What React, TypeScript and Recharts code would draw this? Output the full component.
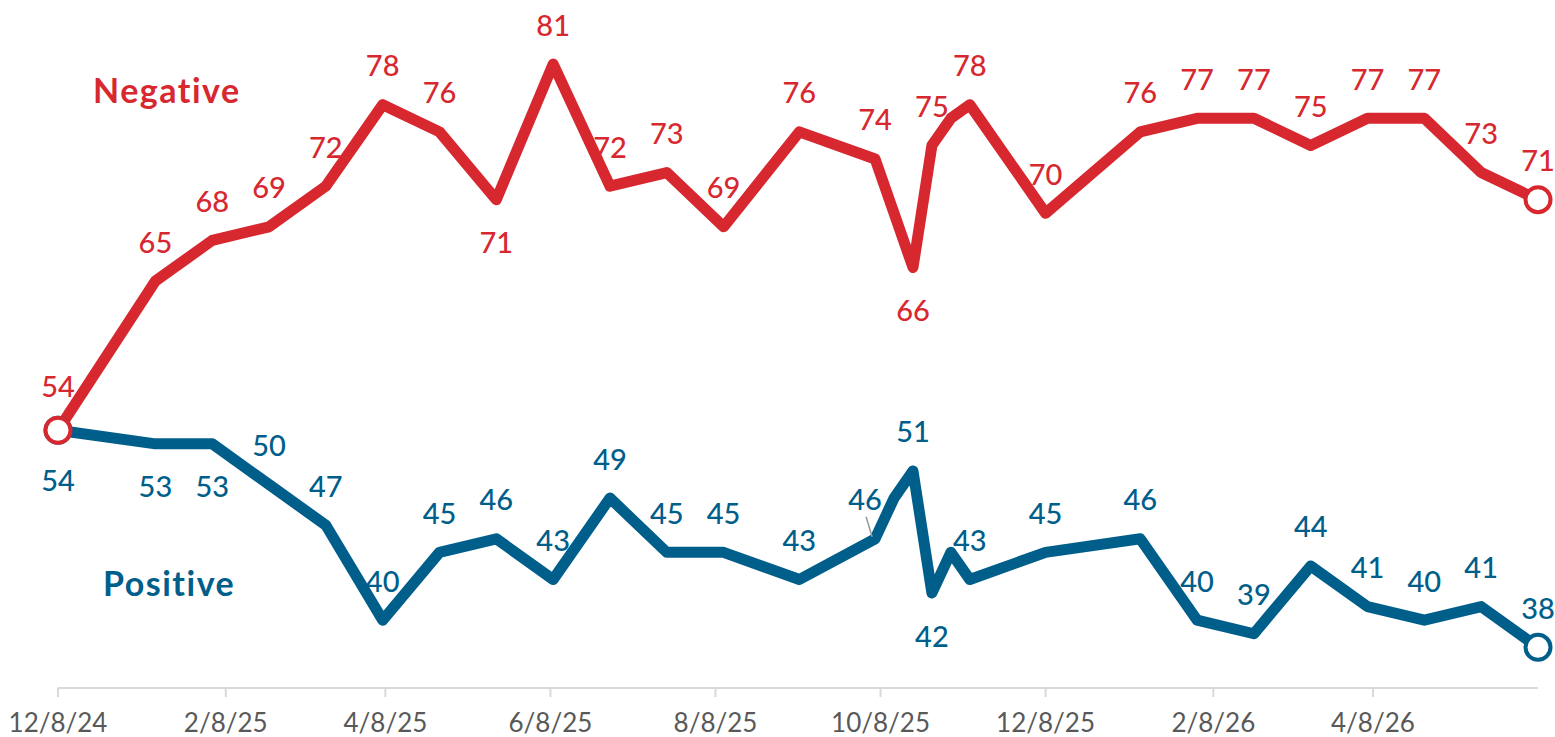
/** Weekly negative vs positive sentiment, Dec 2024 – Jun 2026 */

import { Line, LineChart, XAxis, YAxis } from "recharts";

const dates = [
	"2024-12-08", "2025-01-13", "2025-02-03", "2025-02-24", "2025-03-17",
	"2025-04-07", "2025-04-28", "2025-05-19", "2025-06-09", "2025-06-30",
	"2025-07-21", "2025-08-11", "2025-09-08", "2025-10-06", "2025-10-13",
	"2025-10-20", "2025-10-27", "2025-11-03", "2025-11-10", "2025-12-08",
	"2026-01-12", "2026-02-02", "2026-02-23", "2026-03-16", "2026-04-06",
	"2026-04-27", "2026-05-18", "2026-06-08",
];

const negative = [
	54, 65, 68, 69, 72, 78, 76, 71, 81, 72, 73, 69, 76, 74, 70, 66, 75, 77, 78,
	70, 76, 77, 77, 75, 77, 77, 73, 71,
];

const positive = [
	54, 53, 53, 50, 47, 40, 45, 46, 43, 49, 45, 45, 43, 46, 49, 51, 42, 45, 43,
	45, 46, 40, 39, 44, 41, 40, 41, 38,
];

const tickDates = [
	"2024-12-08", "2025-02-08", "2025-04-08", "2025-06-08", "2025-08-08",
	"2025-10-08", "2025-12-08", "2026-02-08", "2026-04-08",
];
const tickLabels = [
	"12/8/24", "2/8/25", "4/8/25", "6/8/25", "8/8/25", "10/8/25", "12/8/25",
	"2/8/26", "4/8/26",
];

// points with no printed value
const unlabeled = [14, 17];
// labels printed below the line instead of above
const negBelow = [7, 15];
const posBelow = [0, 1, 2, 16];

const RED = "#d7282f";
const BLUE = "#005e8a";
const FONT = "Lato, 'Open Sans', sans-serif";

const toTime = (s: string) => {
	const [y, m, d] = s.split("-").map(Number);
	return Date.UTC(y, m - 1, d);
};

const chartData = dates.map((d, i) => ({
	t: toTime(d),
	negative: negative[i],
	positive: positive[i],
}));

const ticks = tickDates.map(toTime);

function makeLabel(color: string, below: number[]) {
	return (props: any) => {
		const { x, y, value, index } = props;
		if (unlabeled.includes(index)) return <g key={`l-${index}`} />;
		let dy = below.includes(index) ? 42 : -40;
		if (index === 0 && color === BLUE) dy = 49;
		if (index === 0 && color === RED) dy = -45;
		let dx = 0;
		let leader = null;
		if (color === BLUE && index === 13) {
			dx = -10;
			leader = (
				<line
					x1={x - 9}
					y1={y - 22}
					x2={x - 3}
					y2={y - 2}
					stroke="#999"
					strokeWidth={1.5}
				/>
			);
		}
		return (
			<g key={`l-${index}`}>
				{leader}
				<text
					x={x + dx}
					y={y + dy}
					textAnchor="middle"
					dominantBaseline="central"
					fill={color}
					fontSize={29}
					fontWeight={500}
					fontFamily={FONT}
				>
					{value}
				</text>
			</g>
		);
	};
}

function makeDot(color: string) {
	return (props: any) => {
		const { cx, cy, index } = props;
		if (index !== 0 && index !== dates.length - 1)
			return <g key={`d-${index}`} />;
		return (
			<circle
				key={`d-${index}`}
				cx={cx}
				cy={cy}
				r={12.5}
				fill="#fff"
				stroke={color}
				strokeWidth={4}
			/>
		);
	};
}

export default function App() {
	return (
		<div
			style={{
				position: "absolute",
				left: 0,
				top: 0,
				width: 1555,
				height: 737,
				background: "#fff",
			}}
		>
			<LineChart
				width={1555}
				height={737}
				data={chartData}
				margin={{ top: 3, right: 17, bottom: 0, left: 58 }}
			>
				<XAxis
					dataKey="t"
					type="number"
					scale="time"
					domain={["dataMin", "dataMax"]}
					ticks={ticks}
					tickFormatter={(v: number) => tickLabels[ticks.indexOf(v)] ?? ""}
					height={49}
					tickSize={9}
					tickMargin={17}
					stroke="#d9d9d9"
					axisLine={{ stroke: "#d9d9d9", strokeWidth: 2 }}
					tickLine={{ stroke: "#d9d9d9", strokeWidth: 2 }}
					tick={{ fill: "#595959", fontSize: 26, fontFamily: FONT }}
				/>
				<YAxis hide domain={[35, 85.5]} allowDataOverflow />
				<Line
					dataKey="positive"
					stroke={BLUE}
					strokeWidth={11}
					strokeLinejoin="round"
					strokeLinecap="round"
					dot={makeDot(BLUE)}
					activeDot={false}
					label={makeLabel(BLUE, posBelow)}
					isAnimationActive={false}
				/>
				<Line
					dataKey="negative"
					stroke={RED}
					strokeWidth={11}
					strokeLinejoin="round"
					strokeLinecap="round"
					dot={makeDot(RED)}
					activeDot={false}
					label={makeLabel(RED, negBelow)}
					isAnimationActive={false}
				/>
			</LineChart>
			<div
				style={{
					position: "absolute",
					left: 93,
					top: 69,
					color: RED,
					fontFamily: FONT,
					fontSize: 34,
					fontWeight: 700,
					letterSpacing: 1.5,
				}}
			>
				Negative
			</div>
			<div
				style={{
					position: "absolute",
					left: 103,
					top: 562,
					color: BLUE,
					fontFamily: FONT,
					fontSize: 34,
					fontWeight: 700,
					letterSpacing: 1.5,
				}}
			>
				Positive
			</div>
		</div>
	);
}
